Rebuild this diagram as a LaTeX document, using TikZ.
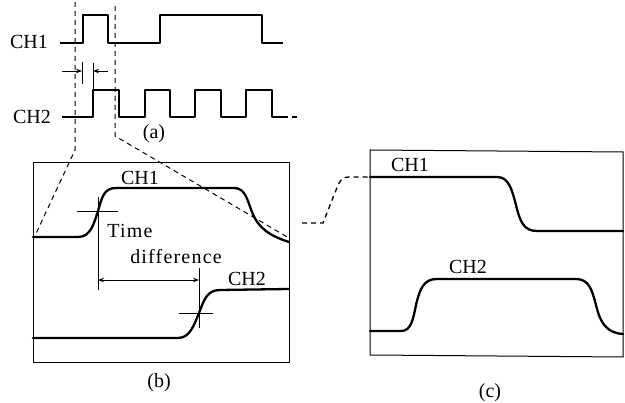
\documentclass[tikz,border=0pt]{standalone}
\usepackage{fontspec}
\setmainfont{Liberation Serif}
\newfontfamily\widefont[LetterSpace=6]{Liberation Serif}
\usetikzlibrary{arrows.meta}
\begin{document}
\begin{tikzpicture}[x=1pt,y=-1pt,
  lbl/.style={font=\fontsize{20}{23}\selectfont, inner sep=0pt},
  wlbl/.style={font=\widefont\fontsize{20}{23}\selectfont, inner sep=0pt},
  wavea/.style={line width=1.6pt, line join=round},
  waveb/.style={line width=2.3pt, line cap=round, line join=round},
  frame/.style={line width=1pt},
  guide/.style={line width=1pt, dash pattern=on 5pt off 4pt},
  thin/.style={line width=0.9pt},
  tip/.style={-{Stealth[length=6pt,width=4.5pt]}, line width=0.9pt}]
\useasboundingbox (0,0) rectangle (625,403);

% ---------------- (a) ----------------
\node[lbl] (ch1a) at (29,42) {CH1};
\node[lbl] (ch2a) at (32,117) {CH2};
\node[lbl] (laba) at (154,134) {(a)};

\draw[wavea] (60,43) -- (83,43) -- (83,15) -- (108,15) -- (108,43) -- (160,43)
  -- (160,15) -- (262,15) -- (262,43) -- (283,43);
\draw[wavea] (62,117) -- (93,117) -- (93,90) -- (119,90) -- (119,117) -- (145,117)
  -- (145,90) -- (170,90) -- (170,117) -- (195,117) -- (195,90) -- (221,90)
  -- (221,117) -- (246,117) -- (246,90) -- (272,90) -- (272,117) -- (283,117);
\draw[guide, line width=1.3pt] (283,117) -- (298,117);

% extension lines and arrows
\coordinate (e1t) at (82,62); \coordinate (e1b) at (82,84);
\coordinate (e2t) at (93,63); \coordinate (e2b) at (93,90);
\draw[thin] (e1t) -- (e1b);
\draw[thin] (e2t) -- (e2b);
\coordinate (a1s) at (62,71); \coordinate (a1e) at (82,71);
\coordinate (a2s) at (108,71); \coordinate (a2e) at (93,71);
\draw[tip] (a1s) -- (a1e);
\draw[tip] (a2s) -- (a2e);

% dashed projection lines
\coordinate (gl0) at (75,2); \coordinate (gl1) at (75,150); \coordinate (gl2) at (34,238);
\coordinate (gr0) at (115,6); \coordinate (gr1) at (115,136); \coordinate (gr2) at (289,238);
\draw[guide] (gl0) -- (gl1) -- (gl2);
\draw[guide] (gr0) -- (gr1) -- (gr2);

% ---------------- (b) ----------------
\draw[frame] (33,163) rectangle (289,363);
\node[lbl] (ch1b) at (140,178) {CH1};
\node[wlbl] (time) at (130,231) {Time};
\node[wlbl] (diff) at (176,257) {difference};
\node[lbl] (ch2b) at (247,279) {CH2};
\node[lbl] (labb) at (159,383) {(b)};

\draw[waveb] (33,237) -- (78,237) .. controls (91,237) and (94,223) .. (98,211)
  .. controls (102,197) and (104,188) .. (116,188) -- (234,188)
  .. controls (245,188) and (247,199) .. (252,212)
  .. controls (258,228) and (270,236) .. (289,242);
\draw[waveb] (33,338) -- (178,338) .. controls (190,338) and (194,325) .. (199,313)
  .. controls (204,300) and (207,290) .. (220,290) -- (289,289);

% crosshairs and time difference
\draw[thin] (77,211) -- (118,211);
\draw[thin] (98,197) -- (98,290);
\draw[thin] (179,313) -- (213,313);
\draw[thin] (199,268) -- (199,328);
\coordinate (tdl) at (98,280); \coordinate (tdr) at (199,280);
\draw[{Stealth[length=6pt,width=4.5pt]}-{Stealth[length=6pt,width=4.5pt]}, line width=0.9pt] (tdl) -- (tdr);

% ---------------- (c) ----------------
\draw[frame] (370,150) -- (623,152) -- (623,357) -- (370,355) -- cycle;
\node[lbl] (ch1c) at (410,165) {CH1};
\node[lbl] (ch2c) at (468,267) {CH2};
\node[lbl] (labc) at (490,393) {(c)};

\draw[waveb] (370,177) -- (497,177) .. controls (509,177) and (512,190) .. (516,205)
  .. controls (520,222) and (524,231) .. (537,231) -- (623,231);
\draw[waveb] (370,331) -- (401,331) .. controls (411,331) and (413,320) .. (416,305)
  .. controls (420,288) and (424,279) .. (437,279) -- (576,279)
  .. controls (589,279) and (592,290) .. (596,305)
  .. controls (600,322) and (606,333) .. (623,334);

% dashed link from (b) to (c)
\coordinate (lk0) at (302,223);
\coordinate (lk1) at (370,177);
\draw[guide, line width=1.3pt] (lk0) -- (323,223) -- (336,190)
  .. controls (340,180) and (342,177) .. (350,177) -- (lk1);
\end{tikzpicture}
\end{document}
